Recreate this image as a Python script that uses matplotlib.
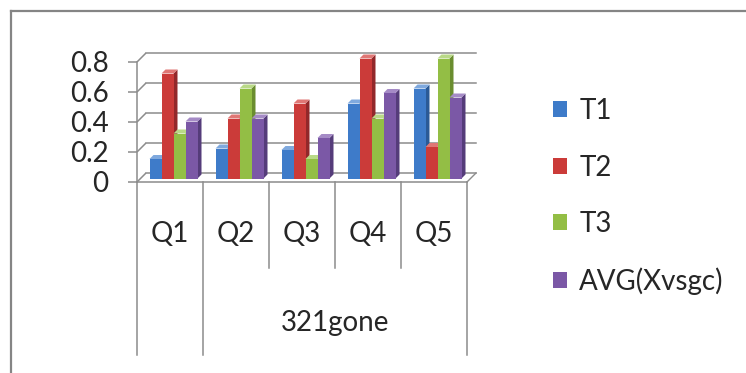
import matplotlib
matplotlib.use('Agg')
import matplotlib.pyplot as plt
from matplotlib.patches import Polygon, Patch
from matplotlib.lines import Line2D

categories = ['Q1', 'Q2', 'Q3', 'Q4', 'Q5']
group_label = '321gone'
series_names = ['T1', 'T2', 'T3', 'AVG(Xvsgc)']
t1 = [0.13, 0.20, 0.19, 0.50, 0.60]
t2 = [0.70, 0.40, 0.50, 0.80, 0.21]
t3 = [0.30, 0.60, 0.13, 0.40, 0.80]
avg = [0.38, 0.40, 0.27, 0.57, 0.54]
y_ticks = [0, 0.2, 0.4, 0.6, 0.8]
y_tick_labels = ['0', '0.2', '0.4', '0.6', '0.8']

series = [t1, t2, t3, avg]
colors = ['#3E7BC9', '#CB3B39', '#93BE45', '#7B58A6']
side_colors = ['#2B5A96', '#92282A', '#6A8D2F', '#553C7A']
top_colors = ['#7FA9DE', '#E07775', '#B9D987', '#A58BC6']
GRID = '#8C8C8C'
TEXT = '#262626'

plt.rcParams['font.family'] = ['Lato', 'DejaVu Sans']

W, H, DPI = 746, 373, 100
fig = plt.figure(figsize=(W / DPI, H / DPI), dpi=DPI)
fig.patch.set_facecolor('white')

# chart border (top and left edges of the chart area)
fig.add_artist(Line2D([10.5 / W, 1.0], [1 - 10.5 / H, 1 - 10.5 / H],
                      transform=fig.transFigure, color='#858585', lw=1.6))
fig.add_artist(Line2D([10.5 / W, 10.5 / W], [0, 1 - 10.5 / H],
                      transform=fig.transFigure, color='#858585', lw=1.6))

# front plane of the 3-D plot area
px0, px1, py_top, py_bot = 137, 467, 62, 182
ax = fig.add_axes([px0 / W, 1 - py_bot / H, (px1 - px0) / W, (py_bot - py_top) / H])
ax.set_xlim(0, len(categories))
ax.set_ylim(0, 0.8)
ax.patch.set_visible(False)

px_x = (px1 - px0) / len(categories)
px_y = (py_bot - py_top) / 0.8


def dx(p):
    return p / px_x


def dy(p):
    return p / px_y


for s in ['top', 'right']:
    ax.spines[s].set_visible(False)
for s in ['left', 'bottom']:
    ax.spines[s].set_color(GRID)
    ax.spines[s].set_linewidth(1.1)
ax.set_xticks([])
ax.set_yticks(y_ticks)
ax.set_yticklabels(y_tick_labels)
ax.tick_params(axis='y', direction='out', length=6.5, width=1.1, color=GRID,
               pad=14, labelsize=20, labelcolor=TEXT)

# walls: side-wall diagonals and back-wall gridlines
depth = 9
n = len(categories)
for v in y_ticks:
    ax.plot([0, dx(depth)], [v, v + dy(depth)], color=GRID, lw=1.1,
            clip_on=False, zorder=1, solid_capstyle='butt')
    ax.plot([dx(depth), n + dx(depth)], [v + dy(depth), v + dy(depth)],
            color=GRID, lw=1.1, clip_on=False, zorder=1)
ax.plot([n, n + dx(depth)], [0, dy(depth)], color=GRID, lw=1.0,
        clip_on=False, zorder=1)

# bars with a simple 3-D look: front face, right side, top cap
w = 1 / 5.5
shift = 3.5
bd = 4
z = 5
for i in range(n):
    for k, vals in enumerate(series):
        v = vals[i]
        left = i + 0.75 * w + k * w + dx(shift)
        bottom = dy(shift)
        right = left + w
        top = bottom + v
        ax.add_patch(Polygon([(right, bottom), (right + dx(bd), bottom + dy(bd)),
                              (right + dx(bd), top + dy(bd)), (right, top)],
                             closed=True, facecolor=side_colors[k], edgecolor='none',
                             clip_on=False, zorder=z))
        ax.add_patch(Polygon([(left, top), (right, top), (right + dx(bd), top + dy(bd)),
                              (left + dx(bd), top + dy(bd))],
                             closed=True, facecolor=top_colors[k], edgecolor='none',
                             clip_on=False, zorder=z))
        ax.bar(left, v, width=w, bottom=bottom, align='edge', color=colors[k],
               edgecolor='none', clip_on=False, zorder=z + 0.5)
        z += 1

# category axis dividers
long_div = dy(-173)
short_div = dy(-86)
for xb in range(n + 1):
    end = long_div if xb in (0, 1, n) else short_div
    ax.plot([xb, xb], [0, end], color=GRID, lw=1.1, clip_on=False, zorder=1)

for i, c in enumerate(categories):
    ax.text(i + 0.5, dy(-52), c, ha='center', va='center', fontsize=20,
            color=TEXT, clip_on=False)
ax.text((1 + n) / 2, dy(-141), group_label, ha='center', va='center',
        fontsize=20, color=TEXT, clip_on=False)

# legend
handles = [Patch(facecolor=c, edgecolor='none') for c in colors]
fig.legend(handles, series_names, loc='upper left',
           bbox_to_anchor=(553 / W, 1 - 98 / H), frameon=False,
           fontsize=20, handlelength=0.5, handleheight=0.5, handletextpad=0.45,
           labelspacing=1.1, borderpad=0, borderaxespad=0, labelcolor=TEXT)

fig.savefig('out.png', dpi=DPI)
